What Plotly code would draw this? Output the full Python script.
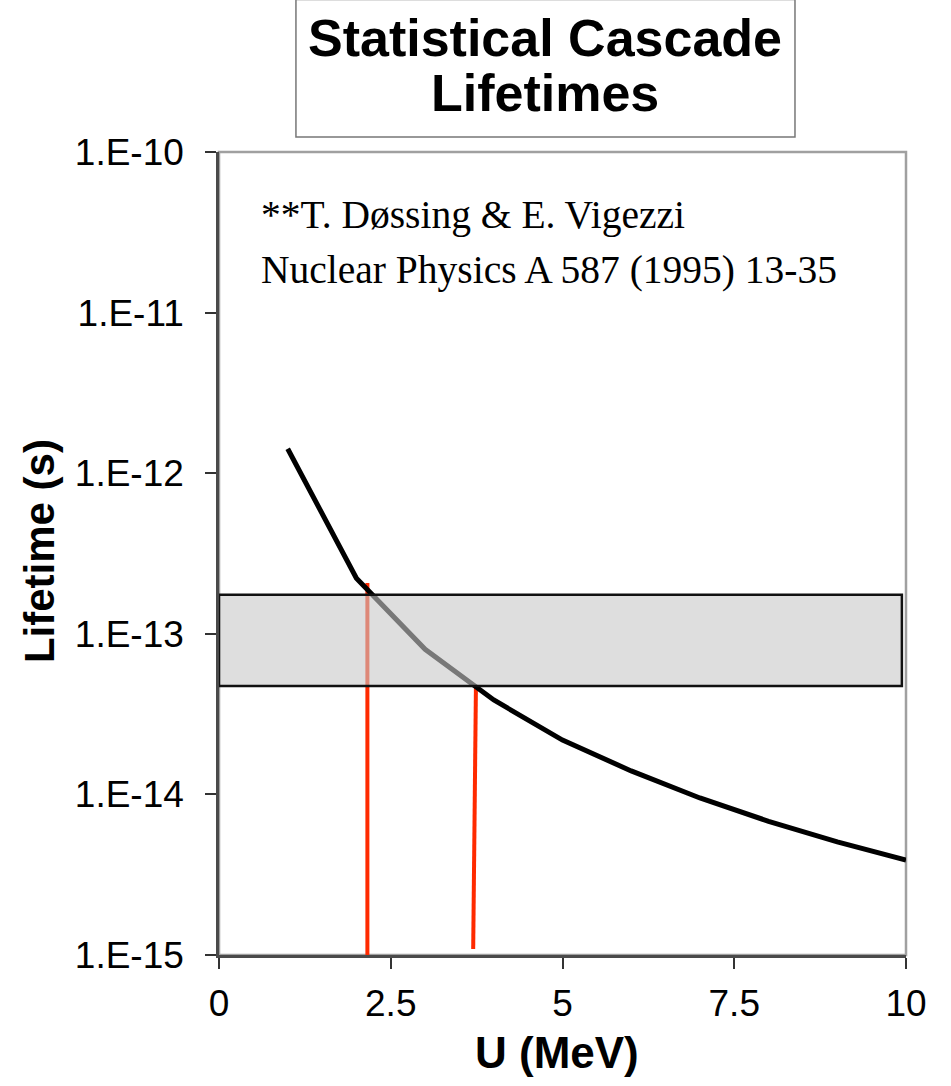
import plotly.graph_objects as go

# ---- data ----
U_MeV = [1, 2, 3, 4, 5, 6, 7, 8, 9, 10]
lifetime_s = [1.42e-12, 2.22e-13, 8.0e-14, 3.87e-14, 2.18e-14,
              1.40e-14, 9.5e-15, 6.8e-15, 5.06e-15, 3.9e-15]

# shaded band (measured lifetime range)
band_U = [0.0, 9.94]
band_lifetime = [4.73e-14, 1.75e-13]

# red drop lines: x at top / bottom, lifetime at top / bottom
drop1_U = [2.16, 2.16]
drop1_lifetime = [2.07e-13, 8.4e-16]
drop2_U = [3.74, 3.70]
drop2_lifetime = [4.73e-14, 1.09e-15]

y_tickvals = [1e-15, 1e-14, 1e-13, 1e-12, 1e-11, 1e-10]
y_ticktext = ["1.E-15", "1.E-14", "1.E-13", "1.E-12", "1.E-11", "1.E-10"]
x_tickvals = [0, 2.5, 5, 7.5, 10]
x_ticktext = ["0", "2.5", "5", "7.5", "10"]

title_lines = ["Statistical Cascade", "Lifetimes"]
cite_lines = ["**T. Døssing & E. Vigezzi", "Nuclear Physics A 587 (1995) 13-35"]

SANS = "Liberation Sans, Arial, sans-serif"
SERIF = "Liberation Serif, Times New Roman, serif"

fig = go.Figure()

for xs, ys in [(drop1_U, drop1_lifetime), (drop2_U, drop2_lifetime)]:
    fig.add_trace(go.Scatter(x=xs, y=ys, mode="lines",
                             line=dict(color="#ff2a00", width=4),
                             showlegend=False, hoverinfo="skip"))

fig.add_trace(go.Scatter(x=U_MeV, y=lifetime_s, mode="lines",
                         line=dict(color="black", width=5), showlegend=False))

# semi-transparent band drawn over the curve
band_x = [band_U[0], band_U[1], band_U[1], band_U[0], band_U[0]]
band_y = [band_lifetime[0], band_lifetime[0], band_lifetime[1], band_lifetime[1], band_lifetime[0]]
fig.add_trace(go.Scatter(x=band_x, y=band_y, mode="lines", fill="toself",
                         fillcolor="rgba(200,200,200,0.6)",
                         line=dict(color="#111111", width=2.5),
                         showlegend=False, hoverinfo="skip"))

# plot-area border (grey)
fig.add_shape(type="rect", xref="paper", yref="paper", x0=0, x1=1, y0=0, y1=1,
              line=dict(color="#a0a0a0", width=2.5), fillcolor="rgba(0,0,0,0)",
              layer="below")

# title box
fig.add_shape(type="rect", xref="paper", yref="paper",
              x0=0.112, x1=0.8384, y0=1.0187, y1=1.19,
              line=dict(color="#777777", width=1.5), fillcolor="white")

def ann(text, x, y, font, xanchor="center", textangle=0):
    fig.add_annotation(text=text, xref="paper", yref="paper", x=x, y=y,
                       xanchor=xanchor, yanchor="middle", showarrow=False,
                       textangle=textangle, font=font)

title_font = dict(family=SANS, size=52, color="black", weight="bold")
ann(title_lines[0], 0.4745, 1.142, title_font)
ann(title_lines[1], 0.4745, 1.0735, title_font)

cite_font = dict(family=SERIF, size=39.5, color="black")
ann(cite_lines[0], 0.0582, 0.921, cite_font, xanchor="left")
ann(cite_lines[1], 0.0582, 0.853, cite_font, xanchor="left")

ann("U (MeV)", 0.492, -0.122, dict(family=SANS, size=44, color="black", weight="bold"))
ann("Lifetime (s)", -0.262, 0.503, dict(family=SANS, size=42, color="black", weight="bold"),
    textangle=-90)

fig.update_layout(
    width=951, height=1086,
    margin=dict(l=219, r=45, t=152, b=131),
    paper_bgcolor="white", plot_bgcolor="white",
    showlegend=False,
    xaxis=dict(range=[0, 10], tickvals=x_tickvals, ticktext=x_ticktext,
               showgrid=False, zeroline=False,
               showline=True, linecolor="#4a4a4a", linewidth=2.5,
               ticks="outside", ticklen=11, tickwidth=1.5, tickcolor="#333333",
               ticklabelstandoff=3,
               tickfont=dict(family=SANS, size=37, color="black")),
    yaxis=dict(type="log", range=[-15, -10], tickvals=y_tickvals, ticktext=y_ticktext,
               showgrid=False, zeroline=False,
               showline=True, linecolor="#4a4a4a", linewidth=2.5,
               ticks="outside", ticklen=11, tickwidth=1.5, tickcolor="#333333",
               ticklabelstandoff=14,
               tickfont=dict(family=SANS, size=37, color="black")),
)

fig.write_html("out.html")
